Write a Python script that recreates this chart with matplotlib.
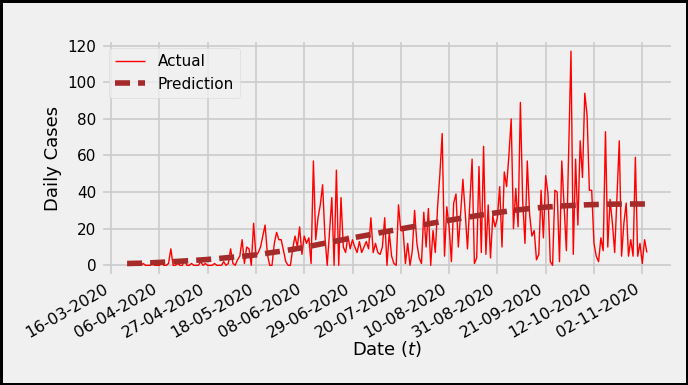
import matplotlib
matplotlib.use("Agg")
import matplotlib.pyplot as plt
import matplotlib.dates as mdates
import pandas as pd

# Daily reported cases, one value per day starting 23-03-2020
start_date = "2020-03-23"
actual_cases = [
    0, 0, 0, 1, 0, 0, 0, 1, 0, 0, 0, 2, 0, 0, 0, 1, 0, 0,
    1, 9, 0, 0, 1, 0, 0, 3, 0, 0, 1, 0, 0, 0, 2, 0, 1, 0, 0, 0, 1, 0, 0, 0, 2, 0, 1, 9, 1, 0,
    3, 5, 14, 1, 10, 9, 0, 23, 5, 7, 10, 16, 22, 6, 0, 0, 12, 18, 14, 14, 8, 2, 0, 0, 9, 16,
    10, 21, 6, 16, 12, 15,
    1, 57, 14, 26, 33, 44, 16, 0, 18, 37, 0, 52, 0, 37, 10, 7, 16, 9, 14, 10, 7, 13, 7, 10,
    13, 9, 26, 7, 12, 7, 6, 10, 26, 0,
    18, 5, 1, 0, 33, 19, 19, 1, 12, 0, 8, 30, 12, 4, 1, 29, 10, 31, 0, 19, 7, 32, 50, 72,
    5, 32, 21, 2, 34, 39, 10, 28,
    47, 29, 9, 33, 58, 1, 4, 54, 7, 65, 6, 33, 4, 27, 21, 26, 43, 10, 51, 43, 60, 80, 20, 42,
    21, 89, 35, 12, 57, 28, 16, 19, 3, 6,
    41, 15, 49, 39, 2, 0, 41, 40, 2, 57, 32, 8, 62, 117, 6, 58, 22, 68, 48, 94, 82, 41, 41,
    12, 5, 2, 15, 8, 73, 10, 36, 23, 7, 38, 68, 5, 23, 34, 5, 14, 5, 59, 5, 12, 1, 14, 7,
]

# Model prediction, sampled weekly (day offsets from the start date)
pred_days = list(range(0, 225, 7)) + [226]
pred_cases = [
    1.0, 1.2, 1.6, 2.1, 2.6, 3.2, 4.0, 4.8, 5.7, 7.0, 8.3, 9.8, 11.6, 13.3, 15.0, 16.6,
    18.3, 19.9, 21.5, 23.1, 24.6, 26.1, 27.5, 28.8, 30.0, 31.0, 31.8, 32.4, 32.9, 33.2,
    33.4, 33.5, 33.5, 33.5,
]

tick_start = "2020-03-16"
tick_end = "2020-11-02"
y_ticks = [0, 20, 40, 60, 80, 100, 120]

plt.style.use("fivethirtyeight")
plt.rcParams["font.family"] = ["DejaVu Sans"]

dates = pd.date_range(start_date, periods=len(actual_cases), freq="D")
pred_dates = pd.Timestamp(start_date) + pd.to_timedelta(pred_days, unit="D")

fig = plt.figure(figsize=(6.88, 3.85), dpi=100)
fig.patch.set_facecolor("#f0f0f0")
fig.patch.set_edgecolor("black")
fig.patch.set_linewidth(2.5)
ax = fig.add_axes([0.147, 0.283, 0.831, 0.612])
ax.set_facecolor("#f0f0f0")

ax.plot(dates, actual_cases, color="red", linewidth=1.0, label="Actual")
ax.plot(pred_dates, pred_cases, color="#a52a2a", linewidth=4, linestyle="--",
        dashes=(2.7, 1.45), label="Prediction")

ax.set_yticks(y_ticks)
ax.set_xticks(pd.date_range(tick_start, tick_end, freq="21D"))
ax.xaxis.set_major_formatter(mdates.DateFormatter("%d-%m-%Y"))
for lbl in ax.get_xticklabels():
    lbl.set_rotation(30)
    lbl.set_ha("right")
ax.tick_params(axis="x", labelsize=11.5)
ax.tick_params(axis="y", labelsize=11)
ax.grid(True, color="#cbcbcb", linewidth=1.2)

ax.set_ylabel("Daily Cases", fontsize=13)
ax.set_xlabel("Date ($t$)", fontsize=13, labelpad=-1)

leg = ax.legend(loc="upper left", fontsize=11, frameon=True, fancybox=True,
                handlelength=2.0)
leg.get_frame().set_facecolor("#f0f0f0")
leg.get_frame().set_edgecolor("#d8d8d8")

fig.savefig("out.png", dpi=100, facecolor=fig.get_facecolor(),
            edgecolor=fig.get_edgecolor())
